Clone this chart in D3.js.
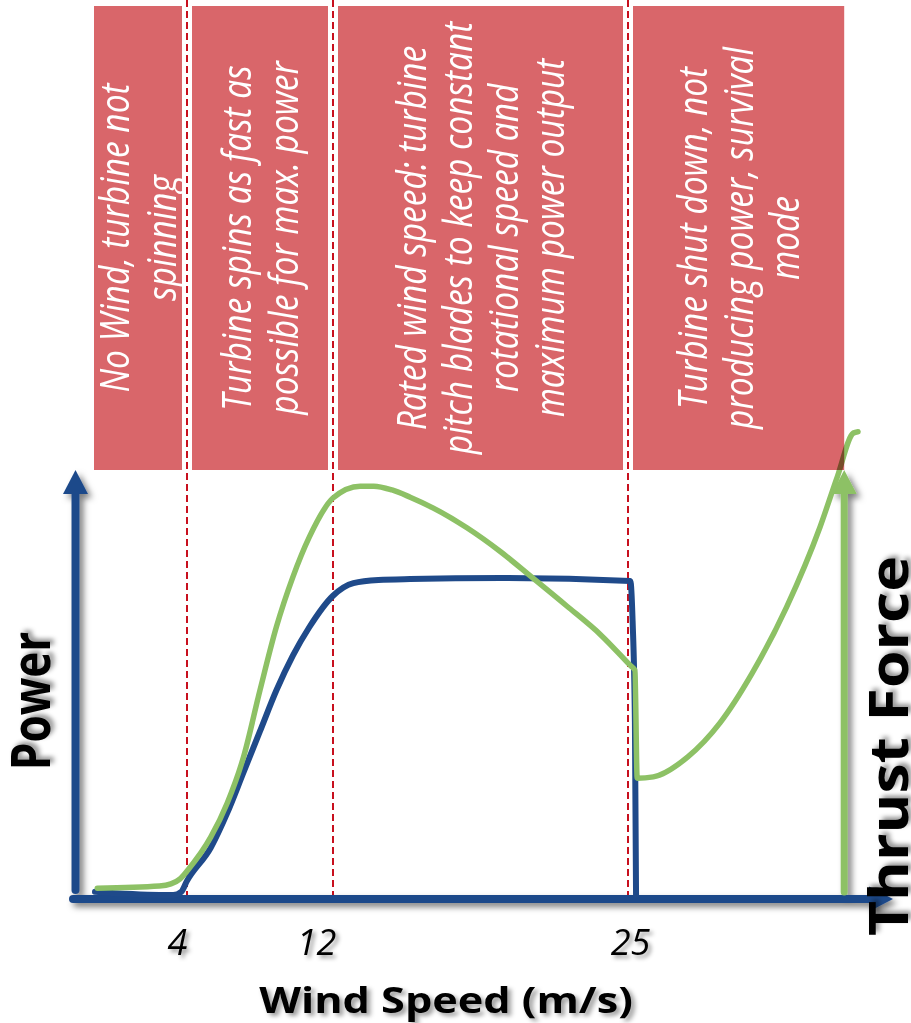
<!DOCTYPE html>
<html><head><meta charset="utf-8">
<script src="https://cdn.jsdelivr.net/npm/d3@7"></script>
<style>html,body{margin:0;padding:0;background:#fff;} svg{display:block}</style>
</head><body>
<svg id="chart" width="911" height="1023"></svg>
<script>
// ---------------- data ----------------
const regimeLabels = [
  ["No Wind,  turbine not", "spinning"],
  ["Turbine spins as fast as", "possible for max. power"],
  ["Rated wind speed: turbine", "pitch blades to keep constant", "rotational speed and", "maximum power output"],
  ["Turbine shut down,  not", "producing power, survival", "mode"]
];
const regimeStart = [0, 4, 12, 25];
const regimeEnd = [4, 12, 25, 34.4];
const windTicks = [4, 12, 25];

// Power curve (% of rated)
const powerWind  = [0, 2.8, 3.4, 3.75, 4.0, 5.3, 6.2, 7.1, 8.0, 8.9, 9.8, 10.7, 12.0, 12.9, 14.0, 15.4, 19.4, 25.1, 25.2, 25.3, 25.35];
const powerValue = [1, 0, 0, 1, 4.5, 15, 26, 39, 52, 65, 76, 85, 95, 99, 100, 100.3, 100.6, 99.7, 87, 55, 0];

// Thrust force curve (relative units)
const thrustWind  = [0.1, 2.8, 3.3, 3.7, 4.05, 5.3, 6.2, 7.1, 8.0, 8.9, 9.8, 10.7, 12.0, 13.2, 13.8, 14.6, 15.4, 16.4, 17.9, 19.4, 20.8, 22.3, 23.8, 25.12, 25.3, 25.4, 26.1, 27.6, 29.0, 30.4, 31.9, 33.35, 34.1, 34.8, 35.0];
const thrustValue = [1.6, 2.1, 2.6, 3.8, 5.9, 13.6, 21.6, 32.5, 48.2, 63.1, 74.8, 84.2, 93.4, 96.2, 96.2, 95.3, 93.6, 91.1, 86.4, 80.7, 74.6, 68.0, 61.2, 53.9, 52.9, 27.5, 27.8, 32.5, 40.5, 52.2, 67.8, 86.6, 98.4, 108.7, 109];

// ---------------- layout ----------------
const BLUE = "#1F4A8A", GREEN = "#8DC165", BOX = "#D9666A", DASH = "#C8101E";
const tickNudge = [-10, -17, 2];
const svg = d3.select("#chart");

const x = d3.scaleLinear().domain([0, 4, 12, 25, 35]).range([95, 187, 333, 628, 858]);
const yP = d3.scaleLinear().domain([0, 100]).range([895, 580]);
const yT = d3.scaleLinear().domain([0, 100]).range([895, 470]);

const defs = svg.append("defs");
defs.append("filter").attr("id", "shadow").attr("filterUnits", "userSpaceOnUse")
  .attr("x", 0).attr("y", 0).attr("width", 911).attr("height", 1023)
  .append("feDropShadow").attr("dx", 4).attr("dy", 4).attr("stdDeviation", 3)
  .attr("flood-color", "#000").attr("flood-opacity", 0.5);
defs.append("filter").attr("id", "tshadow")
  .attr("x", "-30%").attr("y", "-30%").attr("width", "160%").attr("height", "160%")
  .append("feDropShadow").attr("dx", 3).attr("dy", 3).attr("stdDeviation", 2)
  .attr("flood-color", "#000").attr("flood-opacity", 0.4);

const axisY0 = 899, axisTop = 470, yAxisX = 75.5, xAxisTip = 893;

// dashed regime boundaries
svg.append("g").selectAll("line").data(windTicks).join("line")
  .attr("x1", d => x(d)).attr("x2", d => x(d))
  .attr("y1", 0).attr("y2", 903)
  .attr("stroke", DASH).attr("stroke-width", 2).attr("stroke-dasharray", "7,4");

// axes with arrow heads
function arrowUp(g, cx, yBottom, yTip, color, w) {
  g.append("line").attr("x1", cx).attr("x2", cx).attr("y1", yBottom).attr("y2", yTip + 20)
    .attr("stroke", color).attr("stroke-width", w).attr("stroke-linecap", "round");
  g.append("path").attr("d", `M${cx},${yTip} L${cx + 12.5},${yTip + 24} L${cx - 12.5},${yTip + 24} Z`)
    .attr("fill", color);
}
const axG = svg.append("g").attr("filter", "url(#shadow)");
arrowUp(axG, yAxisX, 890, axisTop, BLUE, 8);
axG.append("line").attr("x1", 73).attr("x2", xAxisTip - 20).attr("y1", axisY0).attr("y2", axisY0)
  .attr("stroke", BLUE).attr("stroke-width", 8).attr("stroke-linecap", "round");
axG.append("path").attr("d", `M${xAxisTip},${axisY0} L${xAxisTip - 24},${axisY0 - 12.5} L${xAxisTip - 24},${axisY0 + 12.5} Z`)
  .attr("fill", BLUE);
arrowUp(axG, x(regimeEnd[3]), 892, axisTop, GREEN, 7);

// curves
const powerData = powerWind.map((w, i) => [w, powerValue[i]]);
const thrustData = thrustWind.map((w, i) => [w, thrustValue[i]]);
svg.append("path").datum(powerData)
  .attr("d", d3.line().x(d => x(d[0])).y(d => yP(d[1])).curve(d3.curveMonotoneX))
  .attr("fill", "none").attr("stroke", BLUE).attr("stroke-width", 6)
  .attr("stroke-linejoin", "round").attr("stroke-linecap", "round");
svg.append("path").datum(thrustData)
  .attr("d", d3.line().x(d => x(d[0])).y(d => yT(d[1])).curve(d3.curveMonotoneX))
  .attr("fill", "none").attr("stroke", GREEN).attr("stroke-width", 5.5)
  .attr("stroke-linejoin", "round").attr("stroke-linecap", "round");

// regime boxes
const boxTop = 6, boxBottom = 470, inset = 5;
const boxes = regimeLabels.map((lines, i) => ({
  x0: x(regimeStart[i]) + (i > 0 ? inset : -1),
  x1: x(regimeEnd[i]) - (i < 3 ? inset : 0),
  lines
}));
svg.append("g").style("mix-blend-mode", "multiply").selectAll("rect").data(boxes).join("rect")
  .attr("x", d => d.x0).attr("y", boxTop).attr("width", d => d.x1 - d.x0).attr("height", boxBottom - boxTop)
  .attr("fill", BOX);

const lh = 38.5, fs = 33.5;
const bt = svg.append("g").selectAll("g").data(boxes).join("g")
  .attr("transform", d => `translate(${(d.x0 + d.x1) / 2},${(boxTop + boxBottom) / 2}) scale(1.2,1) rotate(-90)`);
bt.append("text")
  .attr("text-anchor", "middle").attr("fill", "#fff")
  .style("font-family", "'Open Sans', sans-serif").style("font-style", "italic")
  .style("font-size", fs + "px")
  .each(function (d) {
    const n = d.lines.length;
    d3.select(this).selectAll("tspan").data(d.lines).join("tspan")
      .attr("x", 0)
      .attr("y", (l, i) => (i - (n - 1) / 2) * lh + fs * 0.36)
      .text(l => l);
  });

// x tick labels
const xAxis = d3.axisBottom(x).tickValues(windTicks).tickSize(0).tickFormat(d3.format("d"));
const tickG = svg.append("g").attr("transform", "translate(0,955)").call(xAxis);
tickG.select(".domain").remove();
tickG.selectAll("text")
  .attr("y", 0).attr("dy", 0).attr("dx", (d, i) => tickNudge[i])
  .attr("fill", "#000").attr("filter", "url(#tshadow)")
  .style("font-family", "'Open Sans', sans-serif").style("font-style", "italic")
  .style("font-size", "36px");

// axis titles
svg.append("text").attr("transform", "translate(446,1013) scale(1.2,1)")
  .attr("text-anchor", "middle").attr("filter", "url(#tshadow)")
  .style("font-family", "'Open Sans', sans-serif").style("font-weight", "bold").style("font-size", "36px")
  .text("Wind Speed (m/s)");
svg.append("text").attr("transform", "translate(50,701) scale(1.2,1) rotate(-90)")
  .attr("text-anchor", "middle").attr("filter", "url(#tshadow)")
  .style("font-family", "'Open Sans', sans-serif").style("font-weight", "bold").style("font-size", "44px")
  .text("Power");
svg.append("text").attr("transform", "translate(908,746) scale(1.2,1) rotate(-90)")
  .attr("text-anchor", "middle").attr("filter", "url(#tshadow)")
  .attr("textLength", 380).attr("lengthAdjust", "spacingAndGlyphs")
  .style("font-family", "'Open Sans', sans-serif").style("font-weight", "bold").style("font-size", "44px")
  .text("Thrust Force");
</script>
</body></html>
